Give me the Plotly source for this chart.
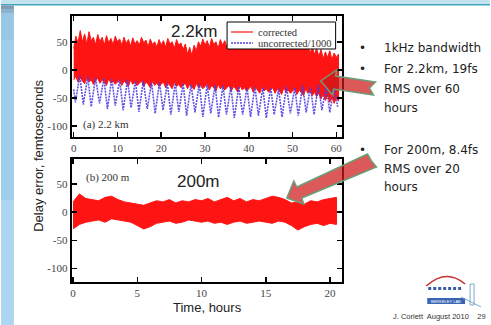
import plotly.graph_objects as go

W, H = 491, 325

# ---------------- data ----------------
# (a) 2.2 km : corrected band envelope, sampled every 0.5 h
t_a = [i * 0.5 for i in range(122)]
corr_a_upper = [38, 60, 48, 70, 50, 64, 46, 68, 52, 58,
                45, 63, 50, 58, 44, 61, 48, 56, 45, 60,
                50, 55, 44, 58, 47, 54, 42, 57, 46, 52,
                44, 58, 48, 53, 41, 55, 45, 50, 40, 54,
                44, 52, 40, 56, 46, 50, 38, 54, 44, 48,
                36, 46, 28, 40, 26, 44, 34, 50, 42, 55,
                44, 52, 40, 56, 45, 50, 38, 54, 44, 52,
                40, 55, 46, 50, 38, 56, 44, 52, 40, 54,
                42, 50, 38, 55, 44, 58, 42, 52, 40, 56,
                44, 52, 40, 58, 46, 54, 40, 60, 45, 52,
                38, 55, 42, 48, 34, 50, 36, 44, 30, 40,
                28, 38, 24, 36, 20, 32, 22, 34, 18, 30,
                22, 28]
corr_a_lower = [-18, -12, -22, -15, -20, -25, -14, -22, -18, -26,
                -20, -15, -24, -18, -22, -28, -16, -24, -20, -26,
                -22, -18, -28, -20, -24, -30, -18, -26, -22, -28,
                -24, -20, -30, -22, -26, -32, -20, -28, -24, -30,
                -26, -22, -32, -24, -28, -34, -22, -30, -26, -32,
                -28, -24, -34, -26, -30, -35, -24, -32, -28, -34,
                -30, -26, -36, -28, -32, -38, -26, -34, -30, -36,
                -32, -28, -38, -30, -34, -40, -28, -36, -32, -38,
                -34, -30, -40, -32, -36, -42, -30, -38, -34, -40,
                -36, -32, -42, -34, -38, -44, -32, -40, -36, -42,
                -38, -34, -44, -36, -40, -46, -34, -42, -38, -46,
                -40, -48, -42, -52, -44, -55, -46, -58, -48, -60,
                -50, -56]

# (a) uncorrected/1000 : turning points (hours, fs)
t_unc = [0.0, 0.4, 1.4, 2.2, 3.2, 4.0, 5.0, 5.9, 6.9, 7.7, 8.7, 9.5, 10.5, 11.3,
         12.3, 13.1, 14.1, 14.9, 15.9, 16.8, 17.8, 18.6, 19.6, 20.4, 21.4, 22.2,
         23.2, 24.0, 25.0, 25.8, 26.8, 27.7, 28.7, 29.5, 30.5, 31.3, 32.3, 33.1,
         34.1, 34.9, 35.9, 36.7, 37.7, 38.6, 39.6, 40.4, 41.4, 42.2, 43.2, 44.0,
         45.0, 45.8, 46.8, 47.6, 48.6, 49.5, 50.5, 51.3, 52.3, 53.1, 54.1, 54.9,
         55.9, 56.7, 57.7, 58.5, 59.5, 60.3]
unc_a = [-35, -58, -10, -62, -12, -66, -14, -60, -15, -70, -16, -64, -18, -72,
         -18, -68, -20, -75, -20, -70, -22, -78, -22, -72, -24, -80,
         -24, -75, -25, -82, -26, -76, -25, -84, -27, -78, -28, -85,
         -28, -80, -30, -86, -30, -80, -32, -84, -30, -82, -32, -86,
         -32, -80, -34, -84, -30, -78, -32, -82, -28, -76, -30, -80,
         -26, -72, -28, -76, -30, -66]

# (b) 200 m : corrected band envelope, sampled every 0.5 h
t_b = [i * 0.5 for i in range(42)]
corr_b_upper = [18, 32, 24, 22, 20, 26, 28, 22, 18, 16,
                14, 12, 16, 20, 18, 22, 16, 20, 18, 22,
                20, 24, 18, 22, 26, 20, 24, 18, 22, 20,
                24, 28, 26, 22, 16, 18, 14, 20, 18, 22,
                24, 26]
corr_b_lower = [-30, -22, -18, -16, -14, -18, -12, -14, -16, -18,
                -24, -30, -26, -20, -18, -16, -20, -18, -14, -16,
                -18, -16, -20, -18, -22, -18, -16, -20, -18, -16,
                -18, -20, -16, -18, -24, -32, -26, -22, -20, -24,
                -20, -22]

xticks_a = [0, 10, 20, 30, 40, 50, 60]
xticks_b = [0, 5, 10, 15, 20]
yticks = [50, 0, -50, -100]
ytick_text = ["50", "0", "-50", "-100"]

bullets = [("1kHz bandwidth", 48, True), ("For 2.2km, 19fs", 69, True),
           ("RMS over 60", 89, False), ("hours", 108, False),
           ("For 200m, 8.4fs", 150, True), ("RMS over 20", 169, False),
           ("hours", 187, False)]

# ---------------- helpers ----------------
def px(x):
    return x / W

def py(y):
    return 1 - y / H

def poly(points):
    s = "M " + " L ".join(f"{px(x):.5f},{py(y):.5f}" for x, y in points) + " Z"
    return s

RED = "#ff1414"
BLUE = "#4a3ee0"

fig = go.Figure()

# corrected band (a)
fig.add_trace(go.Scatter(
    x=t_a + t_a[::-1], y=corr_a_upper + corr_a_lower[::-1],
    fill="toself", fillcolor=RED, mode="lines",
    line=dict(color=RED, width=1), xaxis="x", yaxis="y",
    hoverinfo="skip", showlegend=False))
# uncorrected/1000 (a)
fig.add_trace(go.Scatter(
    x=t_unc, y=unc_a, mode="lines", opacity=0.9,
    line=dict(color=BLUE, width=1.6, dash="2px,1px"),
    xaxis="x", yaxis="y", showlegend=False))
# corrected band (b)
fig.add_trace(go.Scatter(
    x=t_b + t_b[::-1], y=corr_b_upper + corr_b_lower[::-1],
    fill="toself", fillcolor=RED, mode="lines",
    line=dict(color=RED, width=1), xaxis="x2", yaxis="y2",
    hoverinfo="skip", showlegend=False))

tickfont = dict(family="Liberation Serif", size=11, color="#444")
common = dict(showline=True, linecolor="black", linewidth=2, mirror="allticks",
              ticks="inside", ticklen=5, tickwidth=1.5, tickcolor="black",
              showgrid=False, zeroline=False, tickfont=tickfont, fixedrange=True)

xdom = [px(71), px(342)]
fig.update_layout(
    width=W, height=H, margin=dict(l=0, r=0, t=0, b=0),
    paper_bgcolor="white", plot_bgcolor="white", showlegend=False,
    hovermode=False,
    xaxis=dict(domain=xdom, range=[-0.45, 61.2], tickmode="array",
               tickvals=xticks_a, anchor="y", **common),
    yaxis=dict(domain=[py(137), py(16)], range=[-120, 96], tickmode="array",
               tickvals=yticks, ticktext=ytick_text, anchor="x", **common),
    xaxis2=dict(domain=xdom, range=[-0.1, 20.9], tickmode="array",
                tickvals=xticks_b, anchor="y2", **common),
    yaxis2=dict(domain=[py(282), py(159)], range=[-124, 94], tickmode="array",
                tickvals=yticks, ticktext=ytick_text, anchor="x2", **common),
)

shapes = []
# slide decorations: top band and left strip
shapes.append(dict(type="rect", xref="paper", yref="paper", x0=0, x1=1,
                   y0=py(4), y1=1, fillcolor="#c3e4ef", line_width=0, layer="below"))
shapes.append(dict(type="rect", xref="paper", yref="paper", x0=0, x1=1,
                   y0=py(5.5), y1=py(4), fillcolor="#43a6c0", line_width=0, layer="below"))
strip = [(5.5, 9, "#7f9cb4"), (9, 13, "#8cb3cf"), (13, 40, "#98c6e4"),
         (40, 200, "#9fcdec"), (200, 325, "#acd6f2")]
for y0, y1, c in strip:
    shapes.append(dict(type="rect", xref="paper", yref="paper", x0=0, x1=px(13),
                       y0=py(y1), y1=py(y0), fillcolor=c, line_width=0, layer="below"))

# legend box (a)
shapes.append(dict(type="rect", xref="paper", yref="paper", x0=px(227), x1=px(336),
                   y0=py(49), y1=py(22), fillcolor="white",
                   line=dict(color="black", width=1)))
shapes.append(dict(type="line", xref="paper", yref="paper", x0=px(231), x1=px(253),
                   y0=py(32), y1=py(32), line=dict(color=RED, width=1.2)))
shapes.append(dict(type="line", xref="paper", yref="paper", x0=px(231), x1=px(253),
                   y0=py(43), y1=py(43), line=dict(color=BLUE, width=1.6, dash="2px,1px")))

# arrows
ARROW_FILL = "rgba(205,25,25,0.72)"
ARROW_LINE = "#6a9e78"
arrow1 = [(321, 81), (337, 70), (336, 76), (376, 82), (370, 88), (374, 95),
          (334, 89), (333, 95)]
arrow2 = [(287, 198), (294, 181), (297, 187), (368, 154), (372, 161), (377, 167),
          (302, 198), (304, 204)]
for a in (arrow1, arrow2):
    shapes.append(dict(type="path", xref="paper", yref="paper", path=poly(a),
                       fillcolor=ARROW_FILL, line=dict(color=ARROW_LINE, width=1.5)))

# logo (approximate)
shapes.append(dict(type="path", xref="paper", yref="paper",
                   path=f"M {px(427)},{py(286)} Q {px(447)},{py(268)} {px(466)},{py(284)}",
                   line=dict(color="#c83030", width=1.5)))
for i in range(7):
    x0 = 429 + i * 5
    shapes.append(dict(type="rect", xref="paper", yref="paper", x0=px(x0), x1=px(x0 + 3),
                       y0=py(290), y1=py(287), fillcolor="#3a5aa8", line_width=0))
shapes.append(dict(type="rect", xref="paper", yref="paper", x0=px(428), x1=px(466),
                   y0=py(304), y1=py(298), fillcolor="#3a64b4", line_width=0))
shapes.append(dict(type="rect", xref="paper", yref="paper", x0=px(471), x1=px(475),
                   y0=py(305), y1=py(284), fillcolor="rgba(0,0,0,0)",
                   line=dict(color="#7aaacc", width=1)))
shapes.append(dict(type="line", xref="paper", yref="paper", x0=px(462), x1=px(482),
                   y0=py(297), y1=py(307), line=dict(color="#7aaacc", width=1)))

fig.update_layout(shapes=shapes)

ann = []
def text(x, y, s, size, family="Liberation Sans", color="#222", xanchor="center",
         angle=0):
    ann.append(dict(xref="paper", yref="paper", x=px(x), y=py(y), text=s,
                    showarrow=False, xanchor=xanchor, yanchor="middle",
                    textangle=angle, font=dict(family=family, size=size, color=color)))

text(194, 31, "2.2km", 17)
text(198, 181, "200m", 17)
text(80, 125, "(a) 2.2 km", 11, family="Liberation Serif", color="#333", xanchor="left")
text(83, 177, "(b) 200 m", 11, family="Liberation Serif", color="#333", xanchor="left")
text(256, 32, "corrected", 10.5, family="Liberation Serif", color="#333", xanchor="left")
text(256, 43, "uncorrected/1000", 10.5, family="Liberation Serif", color="#333",
     xanchor="left")
text(37, 156, "Delay error, femtoseconds", 13, angle=-90)
text(207, 307, "Time, hours", 13)
for s, y, bullet in bullets:
    if bullet:
        text(363, y, "•", 12, family="DejaVu Sans")
    text(383, y, s, 12, family="DejaVu Sans", xanchor="left")
text(392, 316, "J. Corlett  August 2010    29", 7.5, color="#333", xanchor="left")
text(447, 301, "BERKELEY LAB", 4, color="white")

fig.update_layout(annotations=ann)
fig.write_html("out.html", config={"displayModeBar": False, "staticPlot": True},
               post_script="document.body.style.margin='0px';document.body.style.overflow='hidden';")
